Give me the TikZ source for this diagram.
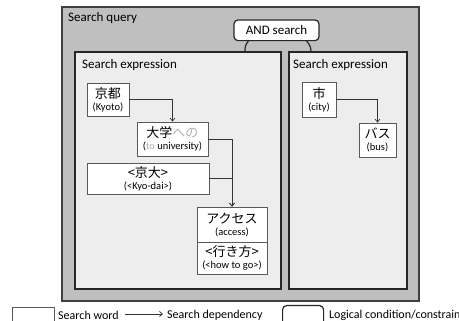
\documentclass[tikz,border=0pt]{standalone}
\usepackage{fontspec}
\setmainfont{Carlito}
\newfontfamily\jp{Noto Sans CJK JP}
\usetikzlibrary{positioning, arrows.meta, fit}
\newcommand{\jword}[1]{{\jp\fontsize{13}{15}\selectfont #1}}
\newcommand{\gloss}[1]{{\fontsize{10.5}{12}\selectfont #1}}
\colorlet{faint}{black!30}

\begin{document}
\begin{tikzpicture}[x=1pt, y=-1pt,
  query/.style={draw=black!75, line width=1.4pt, fill=black!25, inner sep=0pt},
  expr/.style={draw=black!85, line width=1.4pt, fill=black!7, inner sep=0pt},
  word/.style={draw=black!65, line width=0.8pt, fill=white, inner sep=0pt, align=center,
    font=\fontsize{10.5}{12}\selectfont},
  cond/.style={draw=black!85, line width=1.2pt, fill=white, rounded corners=4pt},
  dep/.style={draw=black!80, line width=0.7pt, -{Straight Barb[length=3pt, width=5pt]}},
  title/.style={anchor=base west, inner sep=0pt, font=\fontsize{13}{15}\selectfont},
  legend/.style={anchor=west, inner sep=0pt, font=\fontsize{12}{14}\selectfont}]
  \useasboundingbox (0,0) rectangle (459,321);
  \clip (0,0) rectangle (459,321);

  % search query
  \node[query, fit={(62,7) (419,301)}] (query) {};
  \node[title] (querytxt) at (68,22) {Search query};

  % AND search and its two arcs
  \node[cond, minimum width=85pt, minimum height=20.7pt, font=\fontsize{13}{15}\selectfont] (and) at (276.5,30.3) {AND search};
  \coordinate (andL) at (245,52);
  \coordinate (andR) at (311,52);
  \draw[line width=1.2pt, black!85] ([xshift=15pt]and.south west) .. controls +(-3,3) and +(0,-5) .. (andL);
  \draw[line width=1.2pt, black!85] ([xshift=-13pt]and.south east) .. controls +(3,3) and +(0,-5) .. (andR);

  % search expressions
  \node[expr, fit={(75,52) (281,289)}] (exprL) {};
  \node[expr, fit={(289,52) (407,289)}] (exprR) {};
  \node[title] (exprLtxt) at (82,68.5) {Search expression};
  \node[title] (exprRtxt) at (293,68.5) {Search expression};

  % search words
  \node[word, minimum width=42pt, minimum height=33pt] (kyoto) at (108,99.5) {\jword{京都}\\\gloss{(Kyoto)}};
  \node[word, minimum width=71pt, minimum height=34pt] (univ) at (172.5,139) {\jword{大学\textcolor{faint}{への}}\\\gloss{(\textcolor{faint}{to} university)}};
  \node[word, minimum width=122pt, minimum height=31pt] (kyodai) at (148,178.5) {\jword{<京大>}\\\gloss{(<Kyo-dai>)}};
  \node[word, minimum width=70pt, minimum height=35pt] (access) at (232,224.5) {\jword{アクセス}\\\gloss{(access)}};
  \node[word, minimum width=70pt, minimum height=32pt] (howto) at (232,258) {\jword{<行き方>}\\\gloss{(<how to go>)}};
  \node[word, minimum width=34pt, minimum height=35pt] (city) at (319,99.5) {\jword{市}\\\gloss{(city)}};
  \node[word, minimum width=37pt, minimum height=34pt] (bus) at (377.5,140) {\jword{バス}\\\gloss{(bus)}};

  % dependencies
  \draw[dep] (kyoto) -| (univ);
  \draw[dep] (univ) -| (access);
  \draw[dep] (kyodai) -| (access);
  \draw[dep] (city) -| (bus);

  % legend
  \node[word, minimum width=42pt, minimum height=30pt, anchor=north west] (lgword) at (12,307) {};
  \node[legend] (lgwordtxt) at (58,315) {Search word};
  \coordinate (lgdepA) at (125,314);
  \coordinate (lgdepB) at (163,314);
  \draw[dep] (lgdepA) -- (lgdepB);
  \node[legend] (lgdeptxt) at (167,315) {Search dependency};
  \node[cond, minimum width=41pt, minimum height=30pt, anchor=north west] (lgcond) at (282,305) {};
  \node[legend] (lgcondtxt) at (329,315) {Logical condition/constraint};
\end{tikzpicture}
\end{document}
